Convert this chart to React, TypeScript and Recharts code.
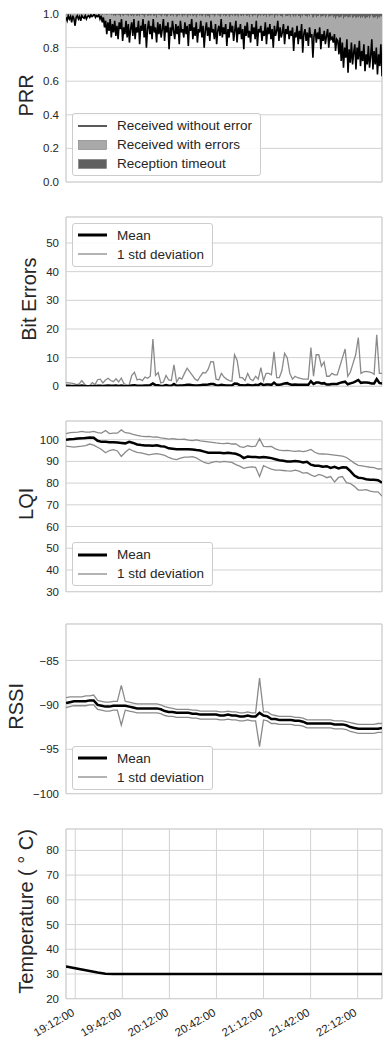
import React from 'react';
import {
  ComposedChart,
  Line,
  Area,
  XAxis,
  YAxis,
  CartesianGrid,
  ReferenceArea,
  Legend,
} from 'recharts';

// time axis, minutes after midnight (19:06 .. 22:27)
const T_START = 1146.1;
const T_END = 1347.5;
const TIME_TICKS = [1152, 1182, 1212, 1242, 1272, 1302, 1332];
const TIME_LABELS = ['19:12:00', '19:42:00', '20:12:00', '20:42:00', '21:12:00', '21:42:00', '22:12:00'];

// PRR: fraction received without error, and fraction received at all
const prrNoError = [
  0.98, 0.96, 0.99, 0.97, 0.985, 0.95, 0.99, 0.97, 0.93, 0.98, 0.99, 0.97, 0.985, 0.96, 0.99, 0.98, 0.975, 0.99, 0.97, 0.985,
  0.99, 0.98, 0.995, 0.985, 0.99, 1.0, 0.98, 0.99, 0.985, 0.995, 0.97, 0.99, 0.95, 0.98, 0.92, 0.96, 0.88, 0.95, 0.9, 0.97,
  0.86, 0.94, 0.89, 0.96, 0.87, 0.93, 0.85, 0.95, 0.91, 0.97, 0.84, 0.92, 0.88, 0.96, 0.86, 0.94, 0.83, 0.91, 0.95, 0.87,
  0.97, 0.85, 0.92, 0.89, 0.96, 0.82, 0.93, 0.9, 0.97, 0.86, 0.94, 0.8, 0.91, 0.96, 0.88, 0.93, 0.85, 0.97, 0.89, 0.92,
  0.83, 0.95, 0.88, 0.94, 0.86, 0.91, 0.97, 0.84, 0.93, 0.89, 0.95, 0.79, 0.92, 0.87, 0.96, 0.9, 0.85, 0.94, 0.88, 0.93,
  0.82, 0.96, 0.89, 0.91, 0.86, 0.95, 0.88, 0.93, 0.81, 0.94, 0.9, 0.97, 0.85, 0.92, 0.87, 0.95, 0.83, 0.91, 0.89, 0.96,
  0.86, 0.93, 0.8, 0.9, 0.95, 0.87, 0.92, 0.84, 0.96, 0.89, 0.91, 0.85, 0.94, 0.82, 0.9, 0.93, 0.87, 0.97, 0.86, 0.92,
  0.88, 0.94, 0.81, 0.91, 0.86, 0.95, 0.89, 0.93, 0.84, 0.9, 0.96, 0.83, 0.92, 0.88, 0.94, 0.85, 0.91, 0.79, 0.93, 0.87,
  0.95, 0.86, 0.9, 0.83, 0.94, 0.88, 0.92, 0.85, 0.96, 0.81, 0.91, 0.89, 0.93, 0.84, 0.9, 0.87, 0.95, 0.82, 0.92, 0.88,
  0.94, 0.85, 0.91, 0.8, 0.93, 0.87, 0.9, 0.96, 0.84, 0.92, 0.86, 0.89, 0.94, 0.82, 0.91, 0.88, 0.93, 0.85, 0.9, 0.87,
  0.92, 0.78, 0.89, 0.86, 0.93, 0.82, 0.9, 0.85, 0.94, 0.77, 0.88, 0.91, 0.84, 0.89, 0.81, 0.92, 0.86, 0.88, 0.74, 0.87,
  0.91, 0.83, 0.89, 0.85, 0.92, 0.79, 0.88, 0.84, 0.9, 0.82, 0.87, 0.91, 0.8, 0.89, 0.85, 0.86, 0.83, 0.88, 0.78, 0.85,
  0.84, 0.76, 0.86, 0.72, 0.83, 0.68, 0.8, 0.74, 0.85, 0.65, 0.79, 0.71, 0.83, 0.7, 0.77, 0.82, 0.67, 0.8, 0.73, 0.84,
  0.69, 0.78, 0.72, 0.82, 0.66, 0.76, 0.7, 0.81, 0.68, 0.75, 0.85, 0.67, 0.78, 0.7, 0.8, 0.64, 0.76, 0.69, 0.82, 0.63,
];
const prrReceived = [
  1, 1, 1, 1, 1, 1, 1, 1, 1, 1, 1, 1, 1, 1, 1, 1, 1, 1, 1, 1,
  1, 1, 1, 1, 1, 1, 1, 1, 1, 1, 0.995, 1, 0.99, 1, 0.995, 1, 0.99, 1, 0.995, 1,
  0.99, 1, 0.985, 0.995, 0.98, 1, 0.99, 0.995, 0.975, 1, 0.99, 0.985, 1, 0.99, 0.995, 0.98, 1, 0.99, 0.985, 0.995,
  0.975, 1, 0.99, 0.985, 0.995, 0.98, 1, 0.99, 0.995, 0.975, 0.99, 1, 0.985, 0.99, 0.995, 0.98, 1, 0.99, 0.985, 0.995,
  0.97, 1, 0.99, 0.995, 0.98, 0.99, 1, 0.985, 0.995, 0.975, 0.99, 1, 0.985, 0.99, 0.995, 0.98, 1, 0.99, 0.975, 0.995,
  0.985, 1, 0.99, 0.98, 0.995, 0.985, 1, 0.975, 0.99, 0.995, 0.985, 1, 0.98, 0.99, 0.995, 0.975, 0.99, 1, 0.985, 0.995,
  0.98, 0.99, 1, 0.975, 0.995, 0.985, 0.99, 0.97, 1, 0.99, 0.995, 0.98, 0.99, 1, 0.985, 0.995, 0.975, 0.99, 1, 0.985,
  0.995, 0.98, 0.99, 1, 0.975, 0.99, 0.995, 0.985, 1, 0.98, 0.99, 0.995, 0.97, 1, 0.99, 0.985, 0.995, 0.98, 1, 0.99,
  0.985, 0.995, 0.975, 1, 0.99, 0.98, 0.995, 0.985, 1, 0.97, 0.99, 0.995, 0.98, 1, 0.985, 0.99, 0.995, 0.975, 1, 0.99,
  0.98, 0.995, 0.985, 1, 0.97, 0.99, 0.995, 0.98, 1, 0.985, 0.99, 0.975, 0.995, 1, 0.98, 0.99, 0.985, 0.995, 0.97, 1,
  0.99, 0.98, 0.995, 0.975, 1, 0.985, 0.99, 0.97, 0.995, 0.98, 1, 0.985, 0.99, 0.975, 0.995, 0.98, 1, 0.99, 0.97, 0.985,
  0.995, 0.975, 0.99, 0.985, 1, 0.97, 0.99, 0.98, 0.995, 0.975, 0.985, 1, 0.97, 0.99, 0.98, 0.995, 0.975, 0.99, 0.965, 0.985,
  0.99, 0.97, 0.985, 0.975, 0.995, 0.965, 0.985, 0.98, 0.99, 0.97, 0.985, 0.975, 0.995, 0.97, 0.98, 0.99, 0.965, 0.985, 0.975, 0.99,
  0.97, 0.985, 0.975, 0.99, 0.965, 0.98, 0.975, 0.99, 0.97, 0.985, 0.995, 0.97, 0.98, 0.975, 0.99, 0.965, 0.985, 0.975, 0.99, 0.98,
];

// bit errors per packet
const bitMean = [
  0.2, 0.2, 0.1, 0.1, 0.1, 0.1, 0.3, 0.1, 0.0, 0.0,
  0.1, 0.0, 0.2, 0.2, 0.1, 0.2, 0.3, 0.2, 0.2, 0.3,
  0.1, 0.3, 0.1, 0.0, 0.1, 0.3, 0.4, 0.2, 0.2, 0.2,
  0.3, 0.3, 0.4, 1.0, 0.4, 0.4, 0.1, 0.2, 0.4, 0.2,
  0.2, 0.8, 0.2, 0.3, 0.3, 0.4, 0.5, 0.5, 0.4, 0.3,
  0.3, 0.4, 0.5, 0.5, 0.6, 0.8, 0.8, 0.4, 0.3, 0.5,
  0.4, 0.3, 0.3, 0.3, 1.0, 0.9, 0.4, 0.4, 0.3, 0.5,
  0.4, 0.3, 0.5, 0.4, 0.9, 0.4, 0.6, 0.6, 0.5, 1.3,
  0.5, 0.5, 0.7, 1.0, 1.1, 0.7, 0.5, 0.6, 0.5, 0.5,
  0.5, 0.5, 0.5, 1.8, 0.8, 1.3, 1.3, 1.0, 1.1, 0.6,
  0.6, 0.8, 0.8, 0.8, 1.2, 1.4, 1.6, 0.7, 1.0, 1.3,
  1.7, 2.2, 1.2, 1.3, 1.3, 1.2, 1.0, 1.0, 2.5, 1.2,
  1.0,
];
const bitStd = [
  1.3, 1.2, 1.1, 0.9, 0.6, 0.8, 2.0, 0.8, 0.2, 0.3,
  1.3, 0.5, 2.3, 2.5, 1.2, 2.2, 2.8, 2.0, 1.6, 2.6,
  1.5, 2.9, 0.9, 0.5, 0.6, 3.8, 4.9, 2.2, 2.5, 2.0,
  3.2, 2.8, 3.5, 16.5, 3.8, 4.8, 1.2, 1.5, 3.8, 2.2,
  2.0, 7.5, 1.5, 3.0, 2.5, 4.5, 6.3, 5.0, 3.8, 2.5,
  2.0, 3.5, 4.8, 4.6, 6.0, 8.6, 8.5, 2.5, 2.2, 4.5,
  3.2, 2.5, 2.0, 1.8, 11.0, 9.0, 3.0, 3.0, 2.0, 4.5,
  2.5, 2.0, 3.5, 2.5, 6.5, 2.0, 4.5, 4.5, 4.0, 12.0,
  3.0, 3.0, 5.5, 11.5, 10.0, 4.5, 2.5, 3.5, 3.0, 2.8,
  2.5, 2.5, 2.5, 13.5, 3.5, 11.0, 11.0, 7.0, 8.5, 3.5,
  3.5, 4.5, 4.0, 4.0, 7.0, 10.0, 13.0, 3.5, 5.0, 8.0,
  11.0, 17.0, 4.5, 5.0, 5.2, 5.0, 4.8, 4.2, 18.0, 4.5,
  4.5,
];

// LQI
const lqiMean = [
  100.0, 100.2, 100.3, 100.5, 100.6, 100.8, 101.0, 100.9, 99.5, 99.0,
  99.0, 98.8, 98.8, 98.7, 98.5, 98.3, 99.0, 98.5, 97.8, 97.5,
  97.3, 97.3, 97.2, 97.4, 97.0, 96.8, 96.0, 95.8, 95.6, 95.6,
  95.6, 95.6, 95.5, 95.2, 95.0, 94.5, 94.0, 94.0, 94.0, 94.0,
  93.8, 94.0, 93.7, 93.5, 92.8, 91.5, 92.2, 92.0, 92.0, 91.8,
  92.0, 91.8, 91.5, 91.0, 90.5, 90.3, 90.0, 90.0, 90.2, 90.0,
  89.5, 89.8, 88.5, 88.0, 88.0, 87.5, 87.8, 87.0, 87.5, 86.8,
  87.3, 87.2, 85.5, 83.5, 82.5, 82.3, 81.8, 81.5, 81.5, 81.3,
  80.2,
];
const lqiUpper = [
  102.8, 103.2, 103.4, 103.5, 103.8, 103.5, 103.5, 103.8, 103.2, 103.0,
  104.2, 102.8, 103.0, 103.0, 104.5, 103.2, 103.0, 102.4, 102.0, 101.6,
  101.4, 101.5, 101.2, 101.3, 100.8, 100.6, 100.3, 100.5, 100.2, 100.1,
  100.2, 99.8, 99.6, 99.9, 99.4, 99.2, 99.0, 98.8, 98.5, 98.3,
  98.2, 98.4, 98.0, 98.1, 96.8, 96.5, 97.2, 96.8, 97.0, 100.5,
  96.9, 96.8, 96.9, 95.8, 95.2, 95.0, 95.1, 94.8, 94.6, 94.8,
  94.5, 94.8, 95.5, 94.2, 93.5, 93.4, 93.3, 93.1, 92.9, 92.7,
  92.4, 91.8, 90.5, 89.2, 88.2, 87.9, 87.6, 87.3, 87.1, 86.5,
  86.6,
];
const lqiLower = [
  97.0, 96.8, 96.6, 96.8, 97.0, 97.3, 98.0, 97.5, 96.5, 95.5,
  94.0, 95.0, 95.4, 94.8, 92.3, 94.2, 95.7, 94.8, 94.2, 93.9,
  93.5, 93.0, 93.3, 93.6, 93.2, 92.8, 91.8, 91.2, 90.8, 91.5,
  92.0, 92.0, 92.2, 91.6, 90.5, 89.5, 89.0, 89.5, 90.0, 89.7,
  90.0, 89.8, 89.5, 88.5, 87.8, 86.8, 87.2, 87.5, 87.3, 83.0,
  88.0, 87.2, 86.4, 86.0, 86.0, 85.8, 85.6, 85.5, 86.0, 85.5,
  84.6, 84.8, 83.8, 83.0, 84.0, 83.5, 82.5, 83.0, 80.5, 82.6,
  83.0, 80.2, 79.8, 78.5, 76.8, 76.8, 77.0, 76.3, 76.0, 76.0,
  74.0,
];

// RSSI (dBm)
const rssiMean = [
  -89.8, -89.7, -89.6, -89.6, -89.6, -89.6, -89.5, -89.5, -90.0, -90.1,
  -90.2, -90.2, -90.1, -90.1, -90.1, -90.1, -90.2, -90.3, -90.4, -90.4,
  -90.4, -90.4, -90.4, -90.4, -90.5, -90.7, -90.8, -90.8, -90.9, -90.9,
  -90.9, -90.9, -91.0, -91.0, -91.1, -91.1, -91.1, -91.1, -91.1, -91.2,
  -91.2, -91.1, -91.2, -91.2, -91.3, -91.3, -91.2, -91.3, -91.3, -90.9,
  -91.2, -91.3, -91.6, -91.6, -91.7, -91.7, -91.7, -91.7, -91.8, -91.8,
  -91.9, -92.1, -92.1, -92.1, -92.1, -92.1, -92.1, -92.1, -92.2, -92.2,
  -92.2, -92.3, -92.5, -92.6, -92.7, -92.7, -92.7, -92.7, -92.7, -92.7,
  -92.6,
];
const rssiUpper = [
  -89.2, -89.1, -89.1, -89.1, -89.1, -89.0, -89.0, -88.9, -89.5, -89.6,
  -89.7, -89.7, -89.6, -89.6, -87.8, -89.6, -89.7, -89.8, -89.9, -89.9,
  -89.9, -89.9, -89.9, -89.9, -90.0, -90.2, -90.3, -90.4, -90.5, -90.5,
  -90.5, -90.5, -90.6, -90.6, -90.7, -90.7, -90.7, -90.7, -90.7, -90.8,
  -90.8, -90.7, -90.8, -90.8, -90.9, -90.9, -90.8, -90.9, -90.9, -87.0,
  -90.8, -90.8, -91.1, -91.2, -91.3, -91.3, -91.3, -91.3, -91.4, -91.4,
  -91.5, -91.7, -91.7, -91.7, -91.7, -91.7, -91.7, -91.7, -91.8, -91.8,
  -91.8, -91.9, -92.0, -92.1, -92.2, -92.2, -92.2, -92.2, -92.2, -92.1,
  -92.1,
];
const rssiLower = [
  -90.3, -90.2, -90.1, -90.1, -90.1, -90.1, -90.0, -90.0, -90.5, -90.6,
  -90.7, -90.7, -90.6, -90.6, -92.3, -90.6, -90.7, -90.8, -90.9, -90.9,
  -90.9, -90.9, -90.9, -90.9, -91.0, -91.2, -91.3, -91.3, -91.4, -91.4,
  -91.4, -91.4, -91.5, -91.5, -91.6, -91.6, -91.6, -91.6, -91.6, -91.7,
  -91.7, -91.6, -91.7, -91.7, -91.8, -91.8, -91.7, -91.8, -91.8, -94.7,
  -91.7, -91.8, -92.1, -92.1, -92.2, -92.2, -92.2, -92.2, -92.3, -92.3,
  -92.4, -92.6, -92.6, -92.6, -92.6, -92.6, -92.6, -92.6, -92.7, -92.7,
  -92.7, -92.8, -93.0, -93.1, -93.2, -93.2, -93.2, -93.2, -93.2, -93.1,
  -93.1,
];

// temperature (deg C)
const temperature = [
  33.0, 32.4, 31.8, 31.2, 30.6, 30.1, 30.0, 30.0, 30.0, 30.0,
  30.0, 30.0, 30.0, 30.0, 30.0, 30.0, 30.0, 30.0, 30.0, 30.0,
  30.0, 30.0, 30.0, 30.0, 30.0, 30.0, 30.0, 30.0, 30.0, 30.0,
  30.0, 30.0, 30.0, 30.0, 30.0, 30.0, 30.0, 30.0, 30.0, 30.0,
  30.0,
];

const FONT = '"Liberation Sans", Arial, Helvetica, sans-serif';
const TEXT = '#262626';
const GRID = '#d2d2d2';
const STD_GREY = '#8a8a8a';
const LIGHT = '#a9a9a9';
const DARK = '#606060';

const timeAt = (i: number, n: number) => T_START + (i * (T_END - T_START)) / (n - 1);

const prrRows = prrNoError.map((ok, i) => ({
  t: timeAt(i, prrNoError.length),
  ok,
  err: Math.max(0, prrReceived[i] - ok),
  to: Math.max(0, 1 - prrReceived[i]),
}));
const bitRows = bitMean.map((m, i) => ({ t: timeAt(i, bitMean.length), mean: m, std: bitStd[i] }));
const lqiRows = lqiMean.map((m, i) => ({ t: timeAt(i, lqiMean.length), mean: m, hi: lqiUpper[i], lo: lqiLower[i] }));
const rssiRows = rssiMean.map((m, i) => ({ t: timeAt(i, rssiMean.length), mean: m, hi: rssiUpper[i], lo: rssiLower[i] }));
const tempRows = temperature.map((v, i) => ({ t: timeAt(i, temperature.length), temp: v }));

function axisTitle(text: string, baseX: number) {
  return (props: any) => {
    const vb = props.viewBox || { y: 0, height: 0 };
    const cy = vb.y + vb.height / 2 - 2.5;
    return (
      <text
        x={baseX}
        y={cy}
        transform={`rotate(-90 ${baseX} ${cy})`}
        textAnchor="middle"
        fontSize={20}
        fontFamily={FONT}
        fill={TEXT}
      >
        {text}
      </text>
    );
  };
}

const TimeTick = (props: any) => {
  const { x, y, payload } = props;
  const idx = TIME_TICKS.indexOf(payload.value);
  const ay = y + 16;
  return (
    <text
      x={x}
      y={ay}
      textAnchor="end"
      transform={`rotate(-30 ${x} ${ay})`}
      fontSize={11.5}
      fontFamily={FONT}
      fill={TEXT}
    >
      {idx >= 0 ? TIME_LABELS[idx] : ''}
    </text>
  );
};

type LegendItem = { label: string; kind: 'line' | 'patch'; color: string; width?: number };

function legendContent(items: LegendItem[]) {
  return () => (
    <div
      style={{
        border: '1px solid #cccccc',
        borderRadius: 3,
        background: 'rgba(255,255,255,0.85)',
        padding: '2px 8px 2px 5px',
        fontFamily: FONT,
        fontSize: 13.5,
        color: TEXT,
        whiteSpace: 'nowrap',
      }}
    >
      {items.map((it) => (
        <div key={it.label} style={{ display: 'flex', alignItems: 'center', height: 19 }}>
          <svg width={29} height={12} style={{ marginRight: 10, flex: 'none' }}>
            {it.kind === 'line' ? (
              <line x1={0} x2={29} y1={6} y2={6} stroke={it.color} strokeWidth={it.width ?? 1.5} />
            ) : (
              <rect x={0.5} y={1.5} width={28} height={9} fill={it.color} stroke="#7a7a7a" strokeWidth={0.6} />
            )}
          </svg>
          <span>{it.label}</span>
        </div>
      ))}
    </div>
  );
}

const statLegend: LegendItem[] = [
  { label: 'Mean', kind: 'line', color: '#000', width: 3 },
  { label: '1 std deviation', kind: 'line', color: STD_GREY, width: 1.3 },
];

const prrLegend: LegendItem[] = [
  { label: 'Received without error', kind: 'line', color: '#000', width: 1.3 },
  { label: 'Received with errors', kind: 'patch', color: LIGHT },
  { label: 'Reception timeout', kind: 'patch', color: DARK },
];

function axes(
  yDomain: [number, number],
  yTicks: number[],
  fmt: (v: number) => string,
  title: string,
  titleX: number,
  showTime: boolean,
) {
  return [
    <CartesianGrid key="grid" stroke={GRID} strokeWidth={1} />,
    <XAxis
      key="x"
      type="number"
      dataKey="t"
      domain={[T_START, T_END]}
      ticks={TIME_TICKS}
      interval={0}
      allowDataOverflow
      height={showTime ? 45 : 0}
      tick={showTime ? <TimeTick /> : false}
      tickSize={0}
      tickMargin={0}
      tickLine={false}
      axisLine={false}
    />,
    <YAxis
      key="y"
      type="number"
      domain={yDomain}
      ticks={yTicks}
      interval={0}
      allowDataOverflow
      width={66}
      tickSize={0}
      tickMargin={7}
      tickLine={false}
      axisLine={false}
      tick={{ fontSize: 11.5, fill: TEXT, fontFamily: FONT }}
      tickFormatter={fmt}
      label={axisTitle(title, titleX)}
    />,
    <ReferenceArea
      key="frame"
      x1={T_START}
      x2={T_END}
      y1={yDomain[0]}
      y2={yDomain[1]}
      fill="none"
      stroke={GRID}
      strokeWidth={1}
      ifOverflow="visible"
    />,
  ];
}

const MARGIN = { top: 5, right: 9, bottom: 5, left: 0 };
const minus = (v: number) => String(v).replace('-', '\u2212');

function legendAt(items: LegendItem[], left: number, top: number) {
  return (
    <Legend
      layout="vertical"
      align="center"
      verticalAlign="middle"
      wrapperStyle={{ left, top, width: 'auto' }}
      content={legendContent(items)}
    />
  );
}

export default function App() {
  return (
    <div style={{ position: 'absolute', left: 0, top: 0, width: 391, height: 1046, background: '#fff' }}>
      {/* PRR */}
      <div style={{ position: 'absolute', left: 0, top: 14 - 5 }}>
        <ComposedChart width={391} height={168 + 10} data={prrRows} margin={MARGIN}>
          {axes([0, 1], [0, 0.2, 0.4, 0.6, 0.8, 1.0], (v) => v.toFixed(1), 'PRR', 32.7, false)}
          <Area type="linear" dataKey="ok" stackId="p" stroke="none" fill="transparent" fillOpacity={0} isAnimationActive={false} />
          <Area type="linear" dataKey="err" stackId="p" stroke="none" fill={LIGHT} fillOpacity={1} isAnimationActive={false} />
          <Area type="linear" dataKey="to" stackId="p" stroke="none" fill={DARK} fillOpacity={1} isAnimationActive={false} />
          <Line type="linear" dataKey="ok" stroke="#000" strokeWidth={1.6} dot={false} isAnimationActive={false} />
          {legendAt(prrLegend, 72, 113 - 14 + 5)}
        </ComposedChart>
      </div>

      {/* Bit errors */}
      <div style={{ position: 'absolute', left: 0, top: 216.7 - 5 }}>
        <ComposedChart width={391} height={169.3 + 10} data={bitRows} margin={MARGIN}>
          {axes([0, 59.07], [0, 10, 20, 30, 40, 50], (v) => String(v), 'Bit Errors', 36, false)}
          <Line type="linear" dataKey="std" stroke={STD_GREY} strokeWidth={1.3} dot={false} isAnimationActive={false} />
          <Line type="linear" dataKey="mean" stroke="#000" strokeWidth={2.5} dot={false} isAnimationActive={false} />
          {legendAt(statLegend, 72, 223 - 216.7 + 5)}
        </ComposedChart>
      </div>

      {/* LQI */}
      <div style={{ position: 'absolute', left: 0, top: 421 - 5 }}>
        <ComposedChart width={391} height={170.7 + 10} data={lqiRows} margin={MARGIN}>
          {axes([30, 108.6], [30, 40, 50, 60, 70, 80, 90, 100], (v) => String(v), 'LQI', 32.5, false)}
          <Line type="linear" dataKey="hi" stroke={STD_GREY} strokeWidth={1.3} dot={false} isAnimationActive={false} />
          <Line type="linear" dataKey="lo" stroke={STD_GREY} strokeWidth={1.3} dot={false} isAnimationActive={false} />
          <Line type="linear" dataKey="mean" stroke="#000" strokeWidth={2.5} dot={false} isAnimationActive={false} />
          {legendAt(statLegend, 72, 542 - 421 + 5)}
        </ComposedChart>
      </div>

      {/* RSSI */}
      <div style={{ position: 'absolute', left: 0, top: 624.3 - 5 }}>
        <ComposedChart width={391} height={169.7 + 10} data={rssiRows} margin={MARGIN}>
          {axes([-100, -80.9], [-100, -95, -90, -85], minus, 'RSSI', 23.3, false)}
          <Line type="linear" dataKey="hi" stroke={STD_GREY} strokeWidth={1.3} dot={false} isAnimationActive={false} />
          <Line type="linear" dataKey="lo" stroke={STD_GREY} strokeWidth={1.3} dot={false} isAnimationActive={false} />
          <Line type="linear" dataKey="mean" stroke="#000" strokeWidth={2.5} dot={false} isAnimationActive={false} />
          {legendAt(statLegend, 72, 746 - 624.3 + 5)}
        </ComposedChart>
      </div>

      {/* Temperature */}
      <div style={{ position: 'absolute', left: 0, top: 829.3 - 5 }}>
        <ComposedChart width={391} height={169.7 + 10 + 45} data={tempRows} margin={MARGIN}>
          {axes([20, 88.65], [20, 30, 40, 50, 60, 70, 80], (v) => String(v), 'Temperature ( \u00B0 C)', 33.3, true)}
          <Line type="linear" dataKey="temp" stroke="#000" strokeWidth={2.5} dot={false} isAnimationActive={false} />
        </ComposedChart>
      </div>
    </div>
  );
}
